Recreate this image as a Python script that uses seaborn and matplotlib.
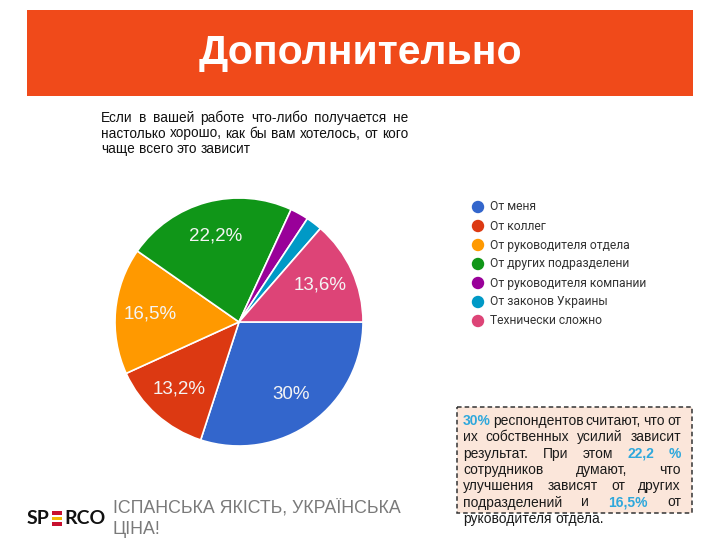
import matplotlib
matplotlib.use("Agg")
import matplotlib.pyplot as plt
from matplotlib.patches import Rectangle
import numpy as np
import seaborn as sns

# ---- data ----
categories = ["От меня", "От коллег", "От руководителя отдела", "От других подразделени",
              "От руководителя компании", "От законов Украины", "Технически сложно"]
values = [30.0, 13.2, 16.5, 22.2, 2.4, 2.1, 13.6]
pct_labels = ["30%", "13,2%", "16,5%", "22,2%", "", "", "13,6%"]
colors = ["#3366CC", "#DC3912", "#FF9900", "#109618", "#990099", "#0099C6", "#DD4477"]

title = "Дополнительно"
question_lines = ["Если в вашей работе что-либо получается не",
                  "настолько хорошо, как бы вам хотелось, от кого",
                  "чаще всего это зависит"]
note_lines = [
    [("30%", True), ("респондентов", False), ("считают,", False), ("что", False), ("от", False)],
    [("их", False), ("собственных", False), ("усилий", False), ("зависит", False)],
    [("результат.", False), ("При", False), ("этом", False), ("22,2", True), ("%", True)],
    [("сотрудников", False), ("думают,", False), ("что", False)],
    [("улучшения", False), ("зависят", False), ("от", False), ("других", False)],
    [("подразделений", False), ("и", False), ("16,5%", True), ("от", False)],
    [("руководителя", False), ("отдела.", False)],
]
footer_lines = ["ІСПАНСЬКА ЯКІСТЬ, УКРАЇНСЬКА", "ЦІНА!"]

sns.set_theme(style="white")
sns.set_palette(sns.color_palette(colors))
plt.rcParams['font.family'] = ['Liberation Sans', 'DejaVu Sans']

W, H = 720, 540
fig = plt.figure(figsize=(7.2, 5.4), dpi=100)
fig.patch.set_facecolor("white")

ov = fig.add_axes([0, 0, 1, 1])
ov.set_xlim(0, W)
ov.set_ylim(H, 0)
ov.axis("off")

# header banner
ov.add_patch(Rectangle((27, 10), 666, 86, facecolor="#F04A1A", edgecolor="none"))
ov.text(360, 53, title, ha="center", va="center", color="white",
        fontsize=29.5, fontweight="bold")

fig.canvas.draw()
renderer = fig.canvas.get_renderer()


def word_width(word, **kw):
    t = ov.text(0, 0, word, **kw)
    bb = t.get_window_extent(renderer)
    t.remove()
    return bb.width


def justified(words, x0, x1, y, justify=True, fontsize=9, base_color="#222222",
              hl_color="#2EA8DC"):
    kws = []
    widths = []
    for w, hl in words:
        kw = dict(fontsize=fontsize, color=hl_color if hl else base_color)
        if hl:
            kw["fontweight"] = "bold"
        kws.append(kw)
        widths.append(word_width(w, **kw))
    space = word_width("a a", fontsize=fontsize) - word_width("aa", fontsize=fontsize)
    if justify and len(words) > 1:
        gap = (x1 - x0 - sum(widths)) / (len(words) - 1)
    else:
        gap = space
    x = x0
    for (w, hl), kw, wd in zip(words, kws, widths):
        ov.text(x, y, w, ha="left", va="center", **kw)
        x += wd + gap


# question text
for i, line in enumerate(question_lines):
    words = [(w, False) for w in line.split()]
    justified(words, 101, 408, 118 + i * 15.5, justify=(i < 2), fontsize=9.8,
              base_color="#111111")

# note box
ov.add_patch(Rectangle((457, 407), 235, 106, facecolor="#FBE6DA", edgecolor="#333333",
                       linestyle=(0, (3, 2)), linewidth=1.1, zorder=1))
for i, words in enumerate(note_lines):
    justified(words, 463, 681, 421 + i * 16.3, justify=(i < len(note_lines) - 1),
              fontsize=10, base_color="#1a1a1a", hl_color="#2EA8DC")

# legend
for i, (cat, col) in enumerate(zip(categories, colors)):
    y = 207 + i * 19
    ov.scatter([478], [y], s=80, color=col, edgecolors="none", zorder=3)
    ov.text(490, y, cat, ha="left", va="center", fontsize=8.7, color="#333333",
            family=["Roboto", "DejaVu Sans"])

# footer logo
ov.text(27, 519, "SP", ha="left", va="center", fontsize=14, fontweight="bold",
        color="#111111", family=["Lato", "DejaVu Sans"])
for j, c in enumerate(["#C8102E", "#F2B705", "#C8102E"]):
    ov.add_patch(Rectangle((52, 511 + j * 5.5), 10, 3.5, facecolor=c, edgecolor="none"))
ov.text(64, 519, "RCO", ha="left", va="center", fontsize=14, fontweight="bold",
        color="#111111", family=["Lato", "DejaVu Sans"])
ov.text(113, 508, footer_lines[0], ha="left", va="center", fontsize=12.8, color="#7a7a7a")
ov.text(113, 530, footer_lines[1], ha="left", va="center", fontsize=12.8, color="#7a7a7a")

# pie
cx, cy, r = 239, 322, 124
pax = fig.add_axes([(cx - r) / W, (H - cy - r) / H, 2 * r / W, 2 * r / H])
wedges, _ = pax.pie(values, colors=colors, startangle=0, counterclock=False,
                    wedgeprops=dict(edgecolor="white", linewidth=1.2))
ang0 = 0.0
for v, lab in zip(values, pct_labels):
    mid = ang0 - v / 2 * 3.6
    ang0 -= v * 3.6
    if lab:
        rr = 0.72
        pax.text(rr * np.cos(np.radians(mid)), rr * np.sin(np.radians(mid)), lab,
                 ha="center", va="center", color="#F4F4F4", fontsize=13.5,
                 family=["Liberation Sans", "DejaVu Sans"])
pax.set_xlim(-1, 1)
pax.set_ylim(-1, 1)
pax.set_aspect("equal")

fig.savefig("out.png", dpi=100, facecolor="white")
